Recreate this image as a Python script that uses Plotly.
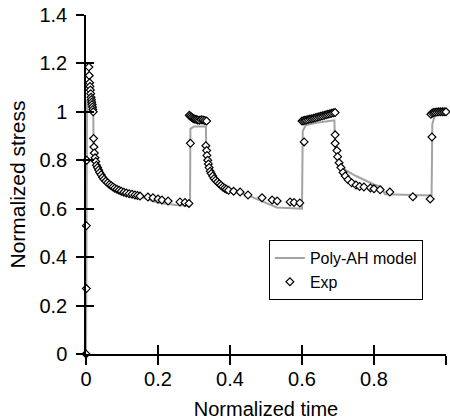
import plotly.graph_objects as go

# experimental points (normalized time, normalized stress)
exp_t = [0, 0.001, 0.001, 0.002,
         0.008, 0.009, 0.010, 0.011, 0.012, 0.013, 0.014, 0.015, 0.016, 0.017, 0.018, 0.019, 0.020,
         0.021, 0.022, 0.023, 0.025, 0.027, 0.029, 0.032, 0.035, 0.038, 0.042, 0.046, 0.050, 0.055,
         0.060, 0.065, 0.070, 0.075, 0.080, 0.086, 0.092, 0.098, 0.105, 0.112, 0.120, 0.128, 0.136,
         0.143, 0.150, 0.172, 0.186, 0.200, 0.211, 0.228, 0.261, 0.275, 0.286,
         0.290,
         0.287, 0.290, 0.293, 0.296, 0.299, 0.302, 0.306, 0.310, 0.315, 0.320, 0.325, 0.330, 0.335,
         0.333, 0.335, 0.336, 0.338, 0.340, 0.342, 0.345, 0.348, 0.352, 0.356, 0.360, 0.365, 0.370,
         0.375, 0.380, 0.385, 0.390, 0.396, 0.410, 0.428, 0.450, 0.489, 0.517, 0.531, 0.567, 0.578,
         0.594,
         0.606,
         0.600, 0.604, 0.608, 0.612, 0.617, 0.622, 0.627, 0.632, 0.637, 0.642, 0.647, 0.652, 0.657,
         0.662, 0.667, 0.672, 0.677, 0.682, 0.687, 0.692,
         0.692, 0.692, 0.697, 0.699, 0.703, 0.708, 0.714, 0.720, 0.728, 0.738, 0.750, 0.760, 0.772,
         0.790, 0.800, 0.817, 0.844, 0.908, 0.956,
         0.961,
         0.958, 0.962, 0.966, 0.970, 0.975, 0.980, 0.985, 0.990, 0.995, 1.000]
exp_s = [0, 0.27, 0.53, 0.80,
         1.185, 1.15, 1.12, 1.105, 1.09, 1.075, 1.06, 1.05, 1.04, 1.03, 1.02, 1.01, 1.00,
         0.89, 0.855, 0.83, 0.81, 0.795, 0.78, 0.77, 0.76, 0.75, 0.74, 0.73, 0.722, 0.714,
         0.707, 0.70, 0.695, 0.69, 0.685, 0.68, 0.676, 0.672, 0.668, 0.665, 0.662, 0.66, 0.657,
         0.655, 0.652, 0.648, 0.645, 0.64, 0.636, 0.632, 0.628, 0.626, 0.622,
         0.87,
         0.986, 0.982, 0.978, 0.975, 0.972, 0.970, 0.968, 0.966, 0.965, 0.967, 0.966, 0.964, 0.962,
         0.86, 0.84, 0.82, 0.80, 0.785, 0.77, 0.755, 0.745, 0.735, 0.725, 0.718, 0.71, 0.703,
         0.697, 0.69, 0.685, 0.68, 0.676, 0.672, 0.669, 0.657, 0.645, 0.636, 0.632, 0.628, 0.626,
         0.624,
         0.876,
         0.962, 0.963, 0.965, 0.966, 0.968, 0.970, 0.972, 0.974, 0.976, 0.978, 0.980, 0.982, 0.984,
         0.986, 0.988, 0.990, 0.992, 0.994, 0.996, 0.997,
         0.905, 0.87, 0.84, 0.815, 0.79, 0.77, 0.75, 0.735, 0.72, 0.707, 0.698, 0.692, 0.69,
         0.686, 0.682, 0.678, 0.669, 0.649, 0.64,
         0.896,
         0.99, 0.995, 0.997, 0.998, 0.999, 1.0, 1.0, 1.0, 1.0, 1.0]

# Poly-AH model curve
model_t = [0, 0.003, 0.012, 0.020, 0.021, 0.025, 0.030, 0.040, 0.050, 0.070, 0.100, 0.130, 0.160,
           0.200, 0.250, 0.289, 0.290, 0.300, 0.333, 0.334, 0.340, 0.350, 0.360, 0.380, 0.400,
           0.450, 0.500, 0.530, 0.600, 0.602, 0.610, 0.640, 0.690, 0.692, 0.700, 0.720, 0.750,
           0.800, 0.820, 0.830, 0.960, 0.962, 0.970, 1.000]
model_s = [0, 1.05, 1.03, 1.02, 0.86, 0.80, 0.77, 0.74, 0.72, 0.695, 0.672, 0.66, 0.645,
           0.625, 0.615, 0.612, 0.93, 0.94, 0.94, 0.85, 0.80, 0.76, 0.73, 0.70, 0.68,
           0.655, 0.625, 0.605, 0.60, 0.92, 0.945, 0.955, 0.965, 0.85, 0.80, 0.76, 0.735,
           0.70, 0.69, 0.66, 0.655, 0.95, 0.99, 1.0]

font = "Liberation Sans, Arial, sans-serif"

fig = go.Figure()
fig.add_trace(go.Scatter(x=model_t, y=model_s, mode="lines", name="Poly-AH model",
                         line=dict(color="#a3a3a3", width=2), cliponaxis=False))
# markers on the overlaid axes (drawn on top of the line; those axes carry the inner ticks)
fig.add_trace(go.Scatter(x=exp_t, y=exp_s, mode="markers", name="Exp",
                         xaxis="x2", yaxis="y2",
                         marker=dict(symbol="diamond", size=6, color="white",
                                     line=dict(color="black", width=1.2)),
                         cliponaxis=False))

tick = dict(tickwidth=1.5, tickcolor="black", showgrid=False, zeroline=False)

fig.update_layout(
    width=450, height=420,
    margin=dict(l=86, r=4, t=15, b=66),
    plot_bgcolor="white", paper_bgcolor="white",
    font=dict(family=font, color="black"),
    xaxis=dict(range=[0, 1], dtick=0.2, automargin=False,
               showline=True, linecolor="black", linewidth=1.5,
               ticks="outside", ticklen=9, tickfont=dict(size=20), ticklabelstandoff=-3,
               title=dict(text="Normalized time", font=dict(size=20), standoff=14), **tick),
    yaxis=dict(range=[0, 1.4], dtick=0.2, automargin=False,
               showline=True, linecolor="black", linewidth=1.5,
               ticks="outside", ticklen=8, tickfont=dict(size=20), ticklabelstandoff=5,
               title=dict(text="Normalized stress", font=dict(size=21), standoff=8), **tick),
    xaxis2=dict(range=[0, 1], dtick=0.2, overlaying="x", anchor="y2", side="bottom",
                showticklabels=False, ticks="inside", ticklen=9, **tick),
    yaxis2=dict(range=[0, 1.4], dtick=0.2, overlaying="y", anchor="x2", side="left",
                showticklabels=False, ticks="inside", ticklen=8, **tick),
    legend=dict(x=0.508, y=0.336, xanchor="left", yanchor="top",
                bordercolor="black", borderwidth=1, bgcolor="white",
                font=dict(size=16), tracegroupgap=0),
)

# the page adds an 8px body margin; remove it so the chart sits at the window origin
fig.write_html("out.html", config={"displayModeBar": False},
               post_script="document.body.style.margin='0';")
